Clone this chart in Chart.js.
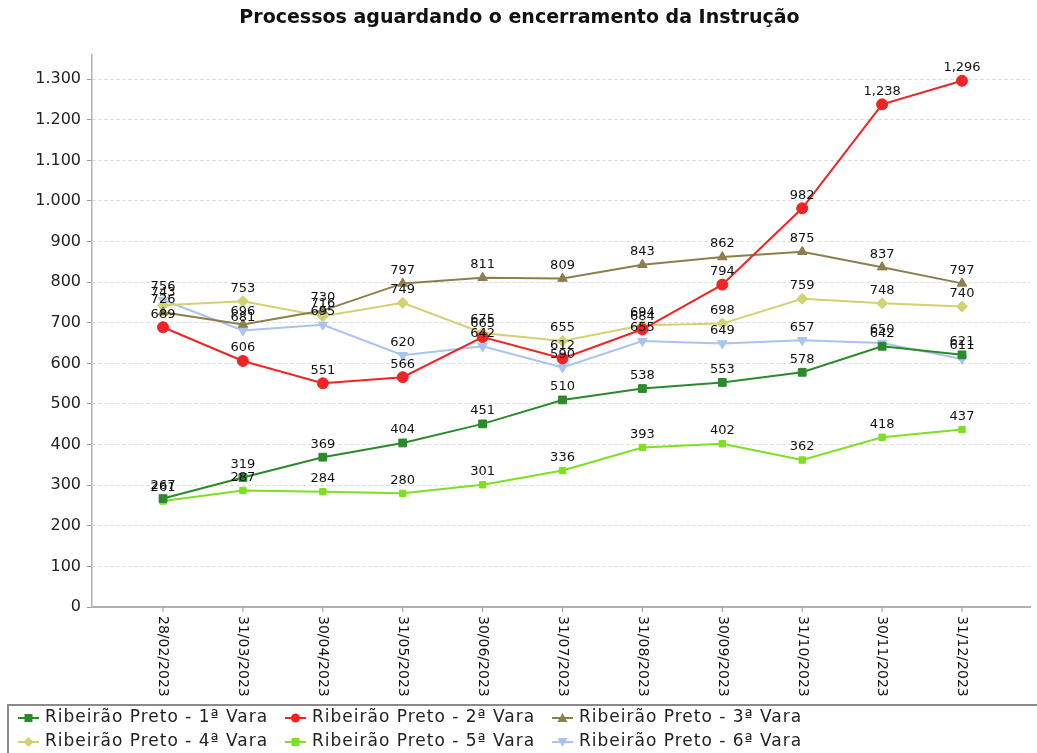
<!DOCTYPE html>
<html>
<head>
<meta charset="utf-8">
<title>Processos aguardando o encerramento da Instrução</title>
<script src="https://cdn.jsdelivr.net/npm/chart.js@4/dist/chart.umd.min.js"></script>
<style>
  html, body { margin: 0; padding: 0; background: #fff; }
  #wrap { width: 1037px; height: 753px; position: relative; }
</style>
</head>
<body>
<div id="wrap"><canvas id="chart"></canvas></div>
<script>
//Chart data
var categories = ['28/02/2023', '31/03/2023', '30/04/2023', '31/05/2023', '30/06/2023', '31/07/2023', '31/08/2023', '30/09/2023', '31/10/2023', '30/11/2023', '31/12/2023'];
var seriesNames = ['Ribeirão Preto - 1ª Vara', 'Ribeirão Preto - 2ª Vara', 'Ribeirão Preto - 3ª Vara', 'Ribeirão Preto - 4ª Vara', 'Ribeirão Preto - 5ª Vara', 'Ribeirão Preto - 6ª Vara'];
var vara1 = [267, 319, 369, 404, 451, 510, 538, 553, 578, 642, 621];
var vara2 = [689, 606, 551, 566, 665, 612, 684, 794, 982, 1238, 1296];
var vara3 = [726, 696, 730, 797, 811, 809, 843, 862, 875, 837, 797];
var vara4 = [743, 753, 716, 749, 675, 655, 694, 698, 759, 748, 740];
var vara5 = [261, 287, 284, 280, 301, 336, 393, 402, 362, 418, 437];
var vara6 = [756, 681, 695, 620, 642, 590, 655, 649, 657, 650, 611];
var yTicks = [0, 100, 200, 300, 400, 500, 600, 700, 800, 900, 1000, 1100, 1200, 1300];

//Styles per series
var colors = ['#2b8a2b', '#f02424', '#8c7f4c', '#d2d272', '#7de022', '#a9c3f2'];
var shapes = ['rect', 'circle', 'triangle', 'rectRot', 'rect', 'triangle'];
var rotations = [0, 0, 0, 0, 0, 180];
var allValues = [vara1, vara2, vara3, vara4, vara5, vara6];

function toPoints(values) {
  var pts = [];
  for (var i = 0; i < values.length; i++) {
    pts.push({ x: i, y: values[i] });
  }
  return pts;
}

//Small legend icon: line with the marker in the middle
function makeIcon(color, shape, rot) {
  var c = document.createElement('canvas');
  c.width = 21;
  c.height = 12;
  var g = c.getContext('2d');
  g.strokeStyle = color;
  g.fillStyle = color;
  g.lineWidth = 2;
  g.beginPath();
  g.moveTo(0, 6);
  g.lineTo(21, 6);
  g.stroke();
  g.translate(10.5, 6);
  g.rotate(rot * Math.PI / 180);
  g.beginPath();
  if (shape === 'circle') {
    g.arc(0, 0, 4.5, 0, Math.PI * 2);
  } else if (shape === 'rect') {
    g.rect(-4, -4, 8, 8);
  } else if (shape === 'rectRot') {
    g.moveTo(0, -5); g.lineTo(5, 0); g.lineTo(0, 5); g.lineTo(-5, 0); g.closePath();
  } else {
    g.moveTo(0, -5); g.lineTo(5, 4); g.lineTo(-5, 4); g.closePath();
  }
  g.fill();
  return c;
}

var datasets = [];
var icons = [];
for (var s = 0; s < allValues.length; s++) {
  datasets.push({
    label: seriesNames[s],
    data: toPoints(allValues[s]),
    borderColor: colors[s],
    backgroundColor: colors[s],
    pointBackgroundColor: colors[s],
    pointBorderColor: colors[s],
    pointStyle: shapes[s],
    pointRotation: rotations[s],
    pointRadius: s === 4 ? 4.5 : 5.5,
    pointBorderWidth: 1,
    borderWidth: 2,
    tension: 0
  });
  icons.push(makeIcon(colors[s], shapes[s], rotations[s]));
}

//Value labels above every point, rotated x labels, boxed legend (3 per row)
var extrasPlugin = {
  id: 'extras',
  afterDatasetsDraw: function(chart) {
    var ctx = chart.ctx;
    ctx.save();
    ctx.font = '13px "DejaVu Sans"';
    ctx.fillStyle = '#111';
    ctx.textAlign = 'center';
    ctx.textBaseline = 'middle';
    chart.data.datasets.forEach(function(ds, di) {
      var meta = chart.getDatasetMeta(di);
      meta.data.forEach(function(pt, i) {
        ctx.fillText(ds.data[i].y.toLocaleString('en-US'), pt.x, pt.y - 13);
      });
    });
    ctx.restore();
  },
  afterDraw: function(chart) {
    var ctx = chart.ctx;
    var xs = chart.scales.x;
    var bottom = chart.chartArea.bottom;
    ctx.save();
    ctx.strokeStyle = '#999';
    ctx.lineWidth = 1;
    ctx.font = '14px "DejaVu Sans"';
    ctx.fillStyle = '#111';
    ctx.textAlign = 'left';
    ctx.textBaseline = 'middle';
    for (var i = 0; i < categories.length; i++) {
      var x = xs.getPixelForValue(i);
      ctx.beginPath();
      ctx.moveTo(x, bottom);
      ctx.lineTo(x, bottom + 5);
      ctx.stroke();
      ctx.save();
      ctx.translate(x, bottom + 9);
      ctx.rotate(Math.PI / 2);
      ctx.fillText(categories[i], 0, 0);
      ctx.restore();
    }

    //legend
    var top = bottom + 98;
    ctx.strokeStyle = '#8a8a8a';
    ctx.lineWidth = 2;
    ctx.strokeRect(8, top, chart.width, 60);
    ctx.font = '17px "DejaVu Sans"';
    ctx.fillStyle = '#222';
    if ('letterSpacing' in ctx) ctx.letterSpacing = '1px';
    for (var k = 0; k < seriesNames.length; k++) {
      var lx = 18 + (k % 3) * 267;
      var ly = top + 13 + Math.floor(k / 3) * 24;
      ctx.drawImage(icons[k], lx, ly - 6);
      ctx.fillText(seriesNames[k], lx + 27, ly);
    }
    ctx.restore();
  }
};

var ctx = document.getElementById('chart').getContext('2d');
var chart = new Chart(ctx, {
  type: 'line',
  data: { datasets: datasets },
  plugins: [extrasPlugin],
  options: {
    responsive: true,
    maintainAspectRatio: false,
    animation: false,
    layout: { padding: { left: 9, right: 7, top: 0, bottom: 53 } },
    plugins: {
      title: {
        display: true,
        text: 'Processos aguardando o encerramento da Instrução',
        color: '#111',
        font: { family: 'DejaVu Sans', size: 19, weight: 'bold' },
        padding: { top: 7, bottom: 25 }
      },
      legend: { display: false },
      tooltip: { enabled: false }
    },
    scales: {
      x: {
        type: 'linear',
        min: -0.889,
        max: 10.851,
        ticks: { display: false },
        grid: { display: false },
        border: { color: '#b0b0b0', width: 2 },
        afterFit: function(scale) { scale.height = 93; }
      },
      y: {
        min: 0,
        max: 1360,
        ticks: {
          stepSize: 100,
          padding: 6,
          color: '#222',
          font: { family: 'DejaVu Sans', size: 16 },
          callback: function(v) { return v.toLocaleString('de-DE'); }
        },
        afterBuildTicks: function(scale) {
          scale.ticks = yTicks.map(function(v) { return { value: v }; });
        },
        grid: { color: '#d8d8d8', tickColor: '#999', tickLength: 5 },
        border: { color: '#b0b0b0', width: 1.5, dash: [3, 3] },
        afterFit: function(scale) { scale.width = 83; }
      }
    }
  }
});
</script>
</body>
</html>
